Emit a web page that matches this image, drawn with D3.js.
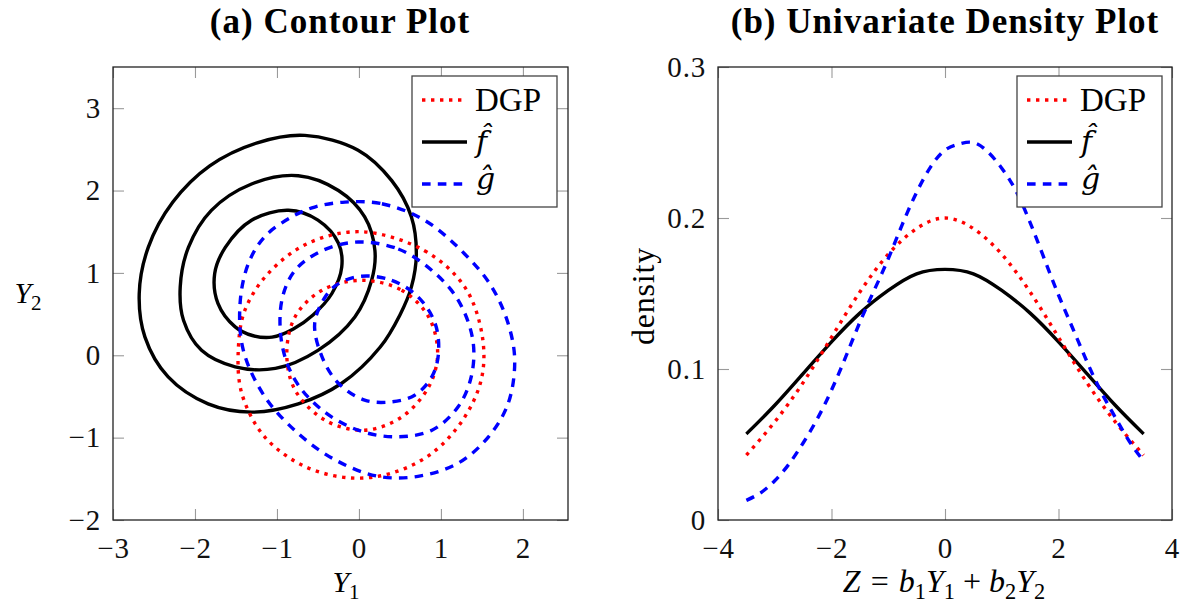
<!DOCTYPE html>
<html>
<head>
<meta charset="utf-8">
<title>Contour and density</title>
<script src="https://cdn.jsdelivr.net/npm/d3@7"></script>
<style>
  body { margin: 0; background: #fff; }
  svg { display: block; font-family: "Liberation Serif", "Times New Roman", serif; }
</style>
</head>
<body>
<script>
// ---- panel (a): contour lines, points [Y1, Y2] ----
var dgpContours = [
  [[0.03,1.50],[0.80,1.27],[1.29,0.83],[1.50,0.26],[1.50,-0.26],[1.29,-0.75],[0.89,-1.19],[0.40,-1.43],
   [-0.09,-1.49],[-0.66,-1.35],[-1.15,-0.99],[-1.43,-0.46],[-1.47,0.10],[-1.39,0.55],[-1.11,0.99],[-0.62,1.36]],
  [[0.03,0.91],[0.52,0.79],[0.85,0.465],[0.96,0.02],[0.85,-0.385],[0.52,-0.75],[0.07,-0.91],[-0.41,-0.79],
   [-0.78,-0.42],[-0.88,0.02],[-0.78,0.465],[-0.45,0.79]]
];
var fContours = [
  [[-0.66,2.67],[-0.01,2.49],[0.40,2.12],[0.64,1.68],[0.70,1.23],[0.64,0.83],[0.50,0.49],[0.26,0.10],
   [-0.21,-0.34],[-0.74,-0.59],[-1.31,-0.69],[-1.84,-0.59],[-2.33,-0.26],[-2.61,0.22],[-2.68,0.75],
   [-2.57,1.31],[-2.27,1.86],[-1.82,2.30],[-1.24,2.58]],
  [[-0.74,2.18],[-0.25,2.00],[0.07,1.68],[0.195,1.27],[0.155,0.91],[-0.05,0.465],[-0.50,0.06],[-1.02,-0.16],
   [-1.51,-0.14],[-1.92,0.06],[-2.14,0.425],[-2.18,0.83],[-2.08,1.31],[-1.80,1.76],[-1.31,2.08]],
  [[-0.86,1.76],[-0.50,1.64],[-0.25,1.36],[-0.21,1.07],[-0.33,0.75],[-0.56,0.49],[-0.80,0.32],[-1.06,0.22],
   [-1.30,0.24],[-1.51,0.345],[-1.72,0.63],[-1.76,0.99],[-1.63,1.31],[-1.31,1.64]]
];
var gContours = [
  [[-0.17,1.86],[0.28,1.84],[0.80,1.64],[1.29,1.23],[1.62,0.83],[1.82,0.385],[1.90,-0.06],[1.82,-0.585],
   [1.58,-0.99],[1.21,-1.31],[0.72,-1.47],[0.235,-1.47],[-0.29,-1.27],[-0.74,-0.95],[-1.15,-0.50],
   [-1.41,0.06],[-1.45,0.63],[-1.35,1.11],[-1.15,1.44],[-0.82,1.68],[-0.54,1.80]],
  [[-0.01,1.375],[0.48,1.29],[0.89,1.03],[1.21,0.67],[1.39,0.18],[1.37,-0.26],[1.21,-0.625],[0.89,-0.91],
   [0.44,-0.99],[-0.01,-0.91],[-0.45,-0.665],[-0.78,-0.30],[-0.94,0.14],[-0.94,0.67],[-0.78,1.03],[-0.45,1.27]],
  [[0.03,0.96],[0.40,0.91],[0.72,0.71],[0.93,0.385],[0.97,0.02],[0.89,-0.26],[0.68,-0.485],[0.40,-0.565],
   [0.07,-0.545],[-0.25,-0.34],[-0.45,-0.02],[-0.54,0.385],[-0.41,0.71],[-0.25,0.87]]
];

// ---- panel (b): univariate densities ----
var zGrid = [-3.5,-3,-2.5,-2,-1.5,-1,-0.5,0,0.5,1,1.5,2,2.5,3,3.5];
var dgpDensity = [0.043,0.065,0.091,0.121,0.151,0.176,0.193,0.200,0.193,0.176,0.151,0.121,0.091,0.065,0.043];
var fDensity   = [0.057,0.076,0.097,0.118,0.137,0.152,0.163,0.166,0.163,0.152,0.137,0.118,0.097,0.076,0.057];
var gGrid = [-3.5,-3.25,-3,-2.75,-2.5,-2.25,-2,-1.75,-1.5,-1.25,-1,-0.75,-0.5,-0.25,0,
             0.25,0.5,0.75,1,1.25,1.5,1.75,2,2.25,2.5,2.75,3,3.25,3.5];
var gDensity = [0.013,0.018,0.026,0.037,0.051,0.067,0.086,0.108,0.131,0.152,0.173,0.196,0.217,0.234,0.245,
                0.249,0.250,0.244,0.233,0.218,0.197,0.173,0.149,0.127,0.105,0.085,0.068,0.052,0.039];

var xTicksA = [-3,-2,-1,0,1,2];
var yTicksA = [-2,-1,0,1,2,3];
var xTicksB = [-4,-2,0,2,4];
var yTicksB = [0,0.1,0.2,0.3];
var seriesKeys = ["dgp","f","g"];
var legendLabels = ["DGP", "f\u0302", "g\u0302"];

// line styles
var styles = {
  dgp: { color: "#ff0000", dash: "3.4 5.6" },
  f:   { color: "#000000", dash: null },
  g:   { color: "#0000ff", dash: "8.6 7.2" }
};
var LW = 3.4;

var svg = d3.select("body").append("svg").attr("width", 1189).attr("height", 611);

function fmtNum(d) {
  return d < 0 ? "\u2212" + Math.abs(d) : String(d);
}

// math-ish label built from parts: {t, i (italic), sub, dx}
function mathText(sel, parts, size) {
  var lowered = false;
  parts.forEach(function (p) {
    var ts = sel.append("tspan").text(p.t);
    if (p.i) ts.attr("font-style", "italic");
    var dy = 0;
    if (p.sub) { ts.attr("font-size", size * 0.7); if (!lowered) { dy = size * 0.22; lowered = true; } }
    else if (lowered) { dy = -size * 0.22; lowered = false; }
    if (dy) ts.attr("dy", dy);
    if (p.dx) ts.attr("dx", p.dx);
  });
}

function styleLine(sel, key) {
  sel.attr("fill", "none")
    .attr("stroke", styles[key].color)
    .attr("stroke-width", LW)
    .attr("stroke-dasharray", styles[key].dash)
    .attr("stroke-linejoin", "round");
}

function drawFrame(g, x, y, xt, yt, fmt) {
  var x0 = x.range()[0], x1 = x.range()[1], y0 = y.range()[0], y1 = y.range()[1];
  g.append("g").attr("transform", "translate(0," + y0 + ")")
    .call(d3.axisBottom(x).tickValues(xt).tickSize(-11).tickPadding(17).tickFormat(fmt));
  g.append("g").attr("transform", "translate(0," + y1 + ")")
    .call(d3.axisTop(x).tickValues(xt).tickSize(-11).tickFormat(""));
  g.append("g").attr("transform", "translate(" + x0 + ",0)")
    .call(d3.axisLeft(y).tickValues(yt).tickSize(-11).tickPadding(12).tickFormat(fmt));
  g.append("g").attr("transform", "translate(" + x1 + ",0)")
    .call(d3.axisRight(y).tickValues(yt).tickSize(-11).tickFormat(""));
  g.selectAll(".domain").remove();
  g.selectAll("g").attr("font-family", null).attr("font-size", null);
  g.selectAll(".tick line").attr("stroke", "#9a9a9a").attr("stroke-width", 1.1);
  g.selectAll(".tick text").attr("font-family", "Liberation Serif, serif")
    .attr("font-size", 29).attr("letter-spacing", 0.8).attr("fill", "#111");
  g.append("rect").attr("x", x0).attr("y", y1).attr("width", x1 - x0).attr("height", y0 - y1)
    .attr("fill", "none").attr("stroke", "#222").attr("stroke-width", 1.3);
}

function drawLegend(g, lx, ly) {
  var w = 145, h = 131;
  g.append("rect").attr("x", lx).attr("y", ly).attr("width", w).attr("height", h)
    .attr("fill", "#fff").attr("stroke", "#444").attr("stroke-width", 1.3);
  var rows = [24, 66, 108];
  var base = [11, 10, 5];
  seriesKeys.forEach(function (k, i) {
    var yy = ly + rows[i];
    g.append("line").attr("x1", lx + 10).attr("x2", lx + 55).attr("y1", yy).attr("y2", yy)
      .call(styleLine, k).attr("stroke-linecap", "butt");
    var t = g.append("text").attr("x", i === 0 ? lx + 63 : lx + 64).attr("y", yy + base[i])
      .text(legendLabels[i]);
    if (i === 0) t.attr("font-size", 33);
    else t.attr("font-size", 30).attr("font-style", "italic").attr("font-family", "DejaVu Serif, serif");
  });
}

// ---------- panel (a) ----------
var xA = d3.scaleLinear().domain([-3, 2.55]).range([113, 568]);
var yA = d3.scaleLinear().domain([-2, 3.5]).range([520, 67]);
var gA = svg.append("g");

var contourLine = d3.line()
  .x(function (d) { return xA(d[0]); })
  .y(function (d) { return yA(d[1]); })
  .curve(d3.curveCatmullRomClosed.alpha(0.5));

var contourSets = { dgp: dgpContours, f: fContours, g: gContours };
["f", "dgp", "g"].forEach(function (k) {
  gA.selectAll(null).data(contourSets[k]).enter().append("path")
    .attr("d", contourLine).call(styleLine, k);
});
drawFrame(gA, xA, yA, xTicksA, yTicksA, fmtNum);
drawLegend(gA, 412, 76);

gA.append("text").attr("x", 340).attr("y", 33).attr("text-anchor", "middle")
  .attr("font-size", 35).attr("font-weight", "bold").attr("letter-spacing", 1)
  .text("(a) Contour Plot");
mathText(gA.append("text").attr("x", 346).attr("y", 592).attr("text-anchor", "middle").attr("font-size", 30),
  [{ t: "Y", i: true }, { t: "1", sub: true }], 30);
mathText(gA.append("text").attr("x", 28).attr("y", 303).attr("text-anchor", "middle").attr("font-size", 30),
  [{ t: "Y", i: true }, { t: "2", sub: true }], 30);

// ---------- panel (b) ----------
var xB = d3.scaleLinear().domain([-4, 4]).range([718, 1172]);
var yB = d3.scaleLinear().domain([0, 0.3]).range([520, 67]);
var gB = svg.append("g");

var densLine = d3.line()
  .x(function (d) { return xB(d[0]); })
  .y(function (d) { return yB(d[1]); })
  .curve(d3.curveNatural);

var densSeries = {
  dgp: d3.zip(zGrid, dgpDensity),
  f: d3.zip(zGrid, fDensity),
  g: d3.zip(gGrid, gDensity)
};
["f", "dgp", "g"].forEach(function (k) {
  gB.append("path").datum(densSeries[k]).attr("d", densLine).call(styleLine, k);
});
drawFrame(gB, xB, yB, xTicksB, yTicksB, fmtNum);
drawLegend(gB, 1017, 76);

gB.append("text").attr("x", 945).attr("y", 33).attr("text-anchor", "middle")
  .attr("font-size", 35).attr("font-weight", "bold").attr("letter-spacing", 1)
  .text("(b) Univariate Density Plot");
mathText(gB.append("text").attr("x", 944).attr("y", 592).attr("text-anchor", "middle").attr("font-size", 32),
  [{ t: "Z", i: true }, { t: "=", dx: 10 }, { t: "b", i: true, dx: 10 }, { t: "1", sub: true },
   { t: "Y", i: true }, { t: "1", sub: true }, { t: "+", dx: 8 },
   { t: "b", i: true, dx: 8 }, { t: "2", sub: true }, { t: "Y", i: true }, { t: "2", sub: true }], 32);
gB.append("text").attr("transform", "translate(654,296) rotate(-90)").attr("text-anchor", "middle")
  .attr("font-size", 32).attr("letter-spacing", 0.8).text("density");
</script>
</body>
</html>
